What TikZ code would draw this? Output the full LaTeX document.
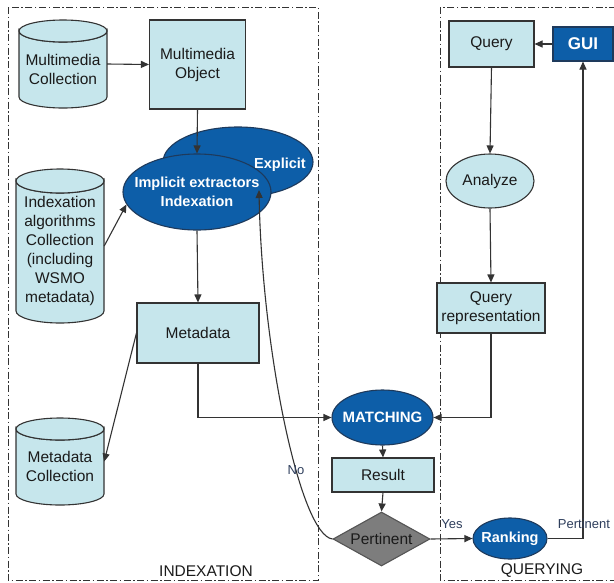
\documentclass[tikz,border=0pt]{standalone}
\usepackage{fontspec}
\setmainfont{Liberation Sans}
\usetikzlibrary{shapes.geometric,arrows.meta}
\definecolor{lb}{HTML}{C6E6EC}
\definecolor{db}{HTML}{0D5EA8}
\definecolor{dbd}{HTML}{1E3A5C}
\definecolor{ln}{HTML}{333333}
\definecolor{gr}{HTML}{7D7D7D}
\definecolor{grd}{HTML}{555555}
\definecolor{tx}{HTML}{1A1A1A}
\definecolor{lbl}{HTML}{2E3E5C}
\newcommand{\mainfs}{\fontsize{15.5}{19}\selectfont}
\newcommand{\boldfs}{\fontsize{14.5}{19}\selectfont\bfseries}
\newcommand{\guifs}{\fontsize{17}{19}\selectfont\bfseries}
\newcommand{\smallfs}{\fontsize{13}{15}\selectfont}
\newcommand{\mycyl}[5]{%
  \pgfmathsetmacro\cxl{#1-#4}\pgfmathsetmacro\cxr{#1+#4}%
  \pgfmathsetmacro\cyt{#2+#5}\pgfmathsetmacro\cyb{#3-#5}%
  \filldraw[cylst] (\cxl,\cyt) -- (\cxl,\cyb) arc[start angle=180,end angle=0,x radius=#4,y radius=#5] -- (\cxr,\cyt) arc[start angle=0,end angle=180,x radius=#4,y radius=#5] -- cycle;
  \draw[cylst] (#1,\cyt) ellipse[x radius=#4,y radius=#5];
}
\tikzset{
  cylst/.style={draw=ln, fill=lb, line width=1.1pt},
  cylnode/.style={rectangle, inner sep=0pt, minimum width=88pt},
  cyltext/.style={font=\mainfs, text=tx, align=center},
  lbox/.style={rectangle, draw=ln, fill=lb, line width=1.1pt, inner sep=0pt, font=\mainfs, text=tx, align=center},
  lell/.style={ellipse, draw=ln, fill=lb, line width=1.1pt, inner sep=0pt, font=\mainfs, text=tx, align=center},
  bell/.style={ellipse, draw=dbd, fill=db, line width=1.1pt, inner sep=0pt},
  belltext/.style={font=\boldfs, text=white, align=center},
  dbox/.style={rectangle, draw=dbd, fill=db, line width=1.1pt, inner sep=0pt, font=\guifs, text=white},
  decision/.style={diamond, draw=grd, fill=gr, line width=1.1pt, inner sep=0pt, aspect=1.8, font=\mainfs, text=tx},
  arr/.style={draw=ln, line width=1.1pt, -{Triangle[length=8pt,width=7pt]}},
  region/.style={draw=ln, line width=0.9pt, dash pattern=on 7pt off 2.5pt on 1.5pt off 2.5pt},
  regionlabel/.style={font=\mainfs, text=tx},
  edgelabel/.style={font=\smallfs, text=lbl},
}
\begin{document}
\begin{tikzpicture}[x=1pt,y=-1pt]
\path[use as bounding box, clip] (0,0) rectangle (614,582);
\fill[white] (0,0) rectangle (614,582);
% regions
\draw[region] (8,7) rectangle (318,580);
\draw[region] (440,7) rectangle (630,580);
\node[regionlabel] (lidx) at (206,571) {INDEXATION};
\node[regionlabel] (lqry) at (542,571) {QUERYING};
% cylinders
\mycyl{63}{20}{108}{44}{11}
\node[cylnode, minimum height=88pt, label={[cyltext, yshift=-5.5pt]center:Multimedia\\Collection}] (mcoll) at (63,64) {};
\mycyl{60}{169}{323}{44}{12}
\node[cylnode, minimum height=154pt, label={[cyltext, yshift=-5pt]center:Indexation\\algorithms\\Collection\\(including\\WSMO\\metadata)}] (icoll) at (60,246) {};
\mycyl{60}{418}{505}{44}{11}
\node[cylnode, minimum height=87pt, label={[cyltext, yshift=-4.5pt]center:Metadata\\Collection}] (mdcoll) at (60,461.5) {};
% boxes
\node[lbox, minimum width=96pt, minimum height=89pt] (mobj) at (197.5,64.5) {Multimedia\\Object};
\node[bell, minimum width=150pt, minimum height=70pt, label={[belltext, xshift=42pt, yshift=-3pt]center:Explicit}] (expl) at (238,162) {};
\node[bell, minimum width=148pt, minimum height=76pt, label={[belltext]center:Implicit extractors\\Indexation}] (impl) at (197,192) {};
\node[lbox, minimum width=122pt, minimum height=60pt] (meta) at (198,333) {Metadata};
\node[lbox, minimum width=85pt, minimum height=46pt] (query) at (491.5,44) {Query};
\node[dbox, minimum width=60pt, minimum height=34pt] (gui) at (583,44) {GUI};
\node[lell, minimum width=88pt, minimum height=54pt] (anal) at (490,181) {Analyze};
\node[lbox, minimum width=108pt, minimum height=50pt] (qrep) at (491,308) {Query\\representation};
\node[bell, minimum width=101pt, minimum height=55pt, label={[belltext, font=\fontsize{15}{19}\selectfont\bfseries]center:MATCHING}] (match) at (382.5,417.5) {};
\node[lbox, minimum width=102pt, minimum height=34pt] (res) at (383,475) {Result};
\node[decision, minimum width=97pt, minimum height=54pt] (pert) at (381.5,539) {Pertinent};
\node[bell, minimum width=74pt, minimum height=41pt, label={[belltext]center:Ranking}] (rank) at (510,538.5) {};
\coordinate (noend) at (259,190);
% connectors
\draw[arr] (mcoll.east) -- (mobj.west);
\draw[arr] (mobj.south) -- (impl.north);
\draw[arr] (icoll.east) -- (impl.190);
\draw[arr] (impl.south) -- (meta.north);
\draw[arr] (meta.west) -- (mdcoll.east);
\draw[arr] (meta.south) |- (match.west);
\draw[arr] (qrep.south) |- (match.east);
\draw[arr] (match.south) -- (res.north);
\draw[arr] (res.south) -- (pert.north);
\draw[arr] (pert.east) -- (rank.west);
\draw[arr] (rank.east) -| (gui.south);
\draw[arr] (gui.west) -- (query.east);
\draw[arr] (query.south) -- (anal.north);
\draw[arr] (anal.south) -- (qrep.north);
\draw[arr] (pert.west) .. controls (300,535) and (262,350) .. (noend);
% edge labels
\node[edgelabel] (lno) at (296,470) {No};
\node[edgelabel] (lyes) at (452,524) {Yes};
\node[edgelabel] (lpert) at (584,524) {Pertinent};
\end{tikzpicture}
\end{document}
